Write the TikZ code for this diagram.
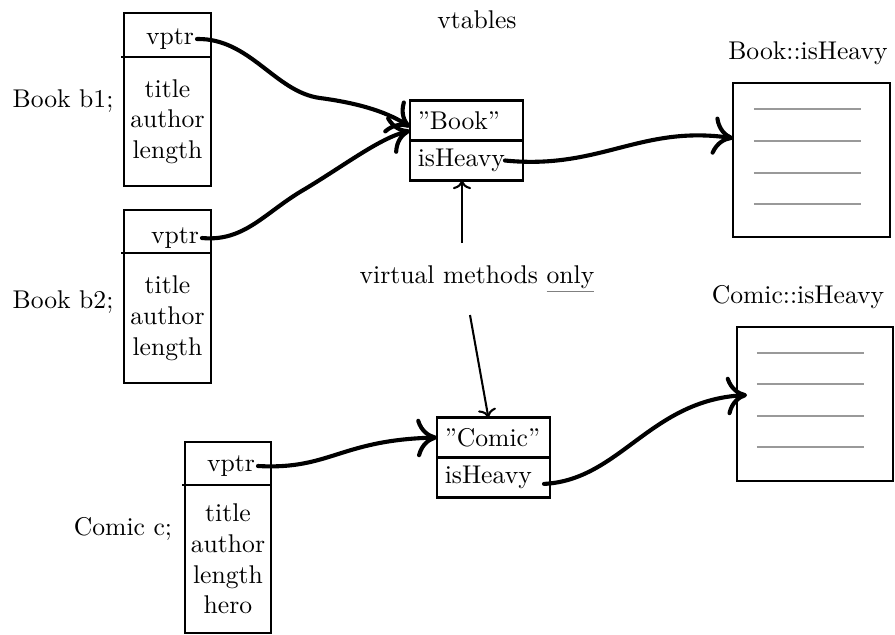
\documentclass[tikz,border=0pt]{standalone}
\usetikzlibrary{arrows.meta}
\begin{document}
\begin{tikzpicture}[x=0.39pt, y=-0.39pt,
    campo/.style={draw, thick, outer sep=0pt, minimum width=34pt, inner xsep=1pt, align=center},
    voce/.style={inner sep=1pt},
    cella/.style={draw, thick, outer sep=0pt, minimum width=44pt, minimum height=15.6pt, text width=38pt, inner xsep=3pt, inner ysep=0pt, align=left},
    corpo/.style={draw, thick, outer sep=0pt, minimum width=61pt, minimum height=60pt},
    riga/.style={gray!80, line width=0.6pt},
    filo/.style={line width=1.6pt, line cap=round, -{To[length=8pt,width=15pt]}},
    freccia/.style={thick, ->}]
    \useasboundingbox (0,0) rectangle (895,634);

    % Oggetto b1
    \node[campo, minimum height=17.5pt] (b1top) at (167.5,35) {};
    \node[voce] (b1ptr) at (170,39) {vptr};
    \node[campo, anchor=north, minimum height=50pt] (b1body) at (b1top.south) {title\\author\\length};
    \draw[thick] ([xshift=-1pt]b1top.south west) -- (b1top.south east);
    \node[anchor=base] (b1lab) at (63,107) {Book b1;};

    % Oggetto b2
    \node[campo, minimum height=16.8pt] (b2top) at (167.5,231.5) {};
    \node[voce] (b2ptr) at (175,238) {vptr};
    \node[campo, anchor=north, minimum height=50.7pt] (b2body) at (b2top.south) {title\\author\\length};
    \draw[thick] ([xshift=-1pt]b2top.south west) -- (b2top.south east);
    \node[anchor=base] (b2lab) at (63,308) {Book b2;};

    % Oggetto c
    \node[campo, minimum width=33.5pt, minimum height=16.8pt] (ctop) at (228,463.5) {};
    \node[voce] (cptr) at (231,466) {vptr};
    \node[campo, minimum width=33.5pt, anchor=north, minimum height=57.7pt] (cbody) at (ctop.south) {title\\author\\length\\hero};
    \draw[thick] ([xshift=-1pt]ctop.south west) -- (ctop.south east);
    \node[anchor=base] (clab) at (123,535) {Comic c;};

    % Le vtable
    \node (vtl) at (477,20) {vtables};
    \node[cella] (bname) at (466.5,120.5) {”Book”};
    \node[cella, anchor=north] (bheavy) at (bname.south) {isHeavy};
    \node[cella] (cname) at (493.5,437.5) {”Comic”};
    \node[cella, anchor=north] (cheavy) at (cname.south) {isHeavy};

    % Il codice dei metodi
    \node[corpo] (bfn) at (811.5,160) {};
    \node[anchor=base] (bfnlab) at (808,59) {Book::isHeavy};
    \foreach \yy in {109,141,173,204} \draw[riga] (754,\yy) -- (861,\yy);
    \node[corpo] (cfn) at (815,404) {};
    \node[anchor=base] (cfnlab) at (798,303) {Comic::isHeavy};
    \foreach \yy in {353,384,416,447} \draw[riga] (757,\yy) -- (864,\yy);

    % Nota
    \node[anchor=base] (vm) at (477,283) {virtual methods {\color{gray}\underline{\color{black}only}}};
    \coordinate (vmup) at (462,243);
    \coordinate (vmdown) at (470,315);
    \draw[freccia] (vmup) -- (vmup |- bheavy.south);
    \draw[freccia] (vmdown) -- ([xshift=-2pt]cname.north);

    % I puntatori
    \draw[filo] (b1ptr.east) .. controls (250,38) and (275,92) .. (320,98)
        .. controls (365,104) and (390,114) .. ([yshift=-2.5pt]bname.west);
    \draw[filo] (b2ptr.east) .. controls (245,242) and (265,212) .. (305,189)
        .. controls (345,165) and (380,138) .. ([yshift=-4pt]bname.west);
    \draw[filo] ([xshift=-7pt]bheavy.east) .. controls (600,170) and (640,125) .. ([yshift=8.5pt]bfn.west);
    \draw[filo] (cptr.east) .. controls (330,470) and (340,440) .. (cname.west);
    \draw[filo] ([shift={(-2.3pt,-2.5pt)}]cheavy.east) .. controls (620,480) and (650,400) .. ([shift={(4pt,3.5pt)}]cfn.west);
\end{tikzpicture}
\end{document}
